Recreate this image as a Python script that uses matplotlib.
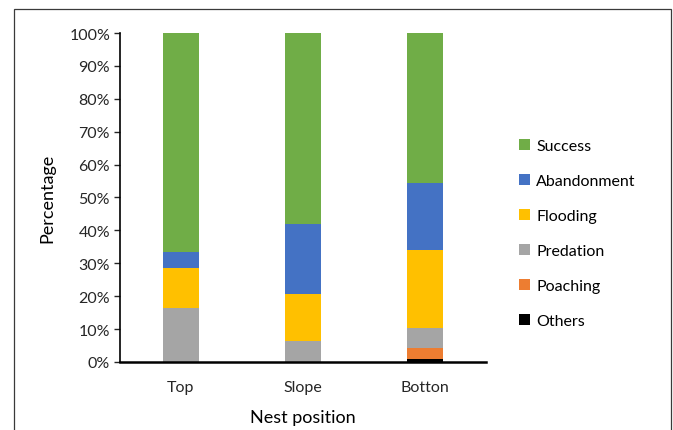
import matplotlib
matplotlib.use("Agg")
import matplotlib.pyplot as plt
from matplotlib.patches import Rectangle
from matplotlib.ticker import PercentFormatter

plt.rcParams["font.family"] = ["Lato", "DejaVu Sans"]

positions = ["Top", "Slope", "Botton"]
# percentages per nest position, stacked bottom -> top
others = [0.0, 0.0, 0.9]
poaching = [0.0, 0.0, 3.45]
predation = [16.4, 6.5, 5.95]
flooding = [12.3, 14.0, 23.8]
abandonment = [4.7, 21.4, 20.4]
success = [66.6, 58.1, 45.5]

series = [
    ("Others", others, "#000000"),
    ("Poaching", poaching, "#ED7D31"),
    ("Predation", predation, "#A5A5A5"),
    ("Flooding", flooding, "#FFC000"),
    ("Abandonment", abandonment, "#4472C4"),
    ("Success", success, "#70AD47"),
]

fig = plt.figure(figsize=(6.73, 4.31), dpi=100)
ax = fig.add_axes([0.178, 0.158, 0.544, 0.763])

x = list(range(len(positions)))
bottom = [0.0] * len(positions)
handles = []
for name, vals, col in series:
    h = ax.bar(x, vals, width=0.30, bottom=bottom, color=col, label=name, linewidth=0)
    handles.append(h)
    bottom = [b + v for b, v in zip(bottom, vals)]

ax.set_xlim(-0.5, 2.5)
ax.set_ylim(0, 100)
ax.set_yticks(range(0, 101, 10))
ax.yaxis.set_major_formatter(PercentFormatter(decimals=0))
ax.set_xticks(x)
ax.set_xticklabels(positions)
ax.tick_params(axis="y", length=4, width=1, labelsize=11.5, colors="#262626", pad=3)
ax.tick_params(axis="x", length=0, labelsize=11.5, colors="#262626", pad=13)
for s in ("top", "right"):
    ax.spines[s].set_visible(False)
ax.spines["left"].set_linewidth(1.2)
ax.spines["bottom"].set_linewidth(1.8)

ax.set_ylabel("Percentage", fontsize=13, color="#000000", labelpad=10)
ax.set_xlabel("Nest position", fontsize=13, color="#000000", labelpad=11)

ax.legend(handles[::-1], [s[0] for s in series][::-1], loc="center left",
          bbox_to_anchor=(1.05, 0.39), frameon=False, fontsize=11.5,
          handlelength=0.7, handleheight=0.7, handletextpad=0.4,
          labelspacing=1.3)

# outer chart border
fig.patches.append(Rectangle((14 / 673, -0.05), 657 / 673, 1.05 - 10 / 431,
                             transform=fig.transFigure, fill=False,
                             edgecolor="#3a3a3a", linewidth=0.9))

fig.savefig("out.png", dpi=100)
